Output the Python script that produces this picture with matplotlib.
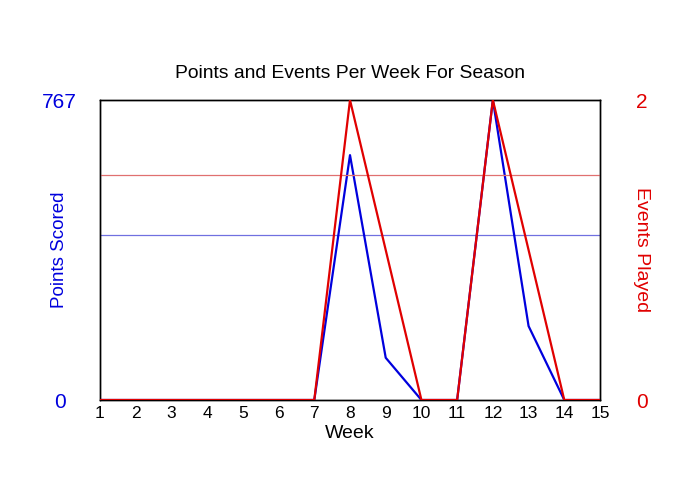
import numpy as np
import matplotlib
matplotlib.use("Agg")
import matplotlib.pyplot as plt

plt.rcParams['font.family'] = ['Liberation Sans', 'DejaVu Sans']

# --- Data ---
weeks = list(range(1, 16))
points_scored = [0, 0, 0, 0, 0, 0, 0, 626, 108, 0, 0, 767, 189, 0, 0]
events_played = [0, 0, 0, 0, 0, 0, 0, 2, 1, 0, 0, 2, 1, 0, 0]
points_max = 767
events_max = 2

# averages over weeks that had events
played = np.array(events_played) > 0
points_avg = np.array(points_scored)[played].mean()
events_avg = np.array(events_played)[played].mean()

fig = plt.figure(figsize=(7, 5), dpi=100)
ax = fig.add_axes([100 / 700, 100 / 500, 500 / 700, 300 / 500])
ax2 = ax.twinx()

ax.plot(weeks, points_scored, color='#0000dd', lw=1.6, zorder=3)
ax.axhline(points_avg, color='#7070e0', lw=0.9, zorder=2)
ax2.plot(weeks, events_played, color='#e00000', lw=1.6, zorder=3)
ax2.axhline(events_avg, color='#e07070', lw=0.9, zorder=2)

ax.set_xlim(1, 15)
ax.set_ylim(0, points_max)
ax2.set_ylim(0, events_max)

ax.set_xticks(weeks)
ax.set_yticks([0, points_max])
ax2.set_yticks([0, events_max])
ax.tick_params(axis='x', length=0, labelsize=12.5, pad=4)
ax.tick_params(axis='y', length=0, labelsize=15, labelcolor='#0000dd', pad=29)
ax2.tick_params(axis='y', length=0, labelsize=15, labelcolor='#e00000', pad=30)
for lbl in ax.get_yticklabels() + ax2.get_yticklabels():
    lbl.set_horizontalalignment('center')

ax.set_xlabel('Week', fontsize=14, labelpad=3)
ax.set_ylabel('Points Scored', fontsize=13.5, color='#0000dd')
ax.yaxis.set_label_coords(-0.064, 0.5)
ax2.set_ylabel('Events Played', fontsize=14, color='#e00000', rotation=270)
ax2.yaxis.set_label_coords(1.1, 0.5)
ax.set_title('Points and Events Per Week For Season', fontsize=13.9, pad=16)

for a in (ax, ax2):
    for s in a.spines.values():
        s.set_linewidth(1.0)

fig.savefig('out.png', dpi=100)
